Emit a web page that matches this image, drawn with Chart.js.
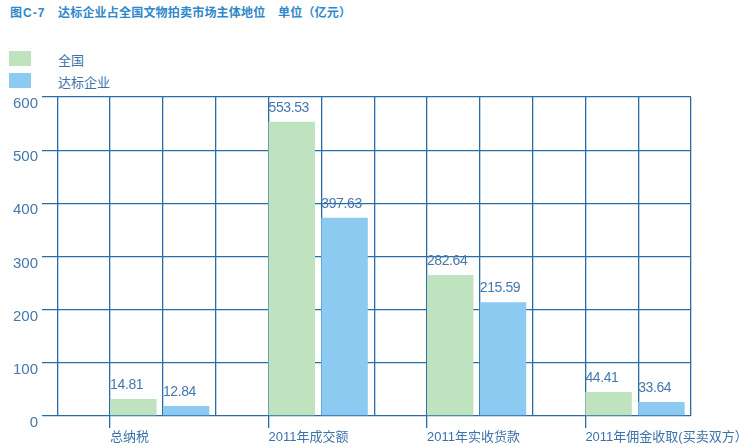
<!DOCTYPE html>
<html>
<head>
<meta charset="utf-8">
<script src="https://cdn.jsdelivr.net/npm/chart.js@4.4.1/dist/chart.umd.min.js"></script>
<style>
  body { margin: 0; background: #fff; }
  #wrap { position: relative; width: 749px; height: 447px; font-family: "Liberation Sans", "Noto Sans CJK SC", sans-serif; }
  #title { position: absolute; left: 10px; top: 3px; font-size: 12px; font-weight: bold; color: #2e88cc; white-space: nowrap; letter-spacing: 0.2px; }
  #title span { display: inline-block; }
  #legend { position: absolute; left: 9px; top: 51px; }
  .item { height: 22px; position: relative; }
  .box { position: absolute; left: 0; top: 0; width: 22px; height: 15px; }
  .txt { position: absolute; left: 49px; top: -1px; font-size: 13px; color: #3c72aa; white-space: nowrap; }
  canvas { position: absolute; left: 0; top: 0; }
</style>
</head>
<body>
<div id="wrap">
  <div id="title"><span style="width:48px;letter-spacing:1px">图C-7</span><span style="width:220px">达标企业占全国文物拍卖市场主体地位</span><span>单位（亿元）</span></div>
  <div id="legend"></div>
  <canvas id="chart" width="749" height="447"></canvas>
</div>
<script>
// categories
const categories = ["总纳税", "2011年成交额", "2011年实收货款", "2011年佣金收取(买卖双方）"];

// series (bar heights as drawn in the picture)
const seriesNames = ["全国", "达标企业"];
const quanguo = [32, 553.5, 265, 45];
const dabiao = [19, 373, 214, 26.5];

// printed value labels
const quanguoLabels = ["14.81", "553.53", "282.64", "44.41"];
const dabiaoLabels = ["12.84", "397.63", "215.59", "33.64"];

// y ticks
const yTicks = [0, 100, 200, 300, 400, 500, 600];

const colors = ["#bfe3bf", "#8dcaf2"];
const gridColor = "#2a6ca8";
const textColor = "#3c72aa";

// each category uses 3 grid columns: green, blue, empty
const columns = [0, 1, 2, 3, 4, 5, 6, 7, 8, 9, 10, 11, 12];
const catColumn = i => 1 + 3 * i;

function catIndex(value) {
    return categories.findIndex(function (_, i) { return catColumn(i) === value; });
}

function toPoints(values, shift) {
    return values.map(function (v, i) {
        return { x: catColumn(i) + shift + 0.44, y: v };
    });
}

// legend
const legend = document.getElementById("legend");
seriesNames.forEach(function (name, i) {
    const item = document.createElement("div");
    item.className = "item";
    item.innerHTML = '<div class="box" style="background:' + colors[i] + '"></div><div class="txt">' + name + '</div>';
    legend.appendChild(item);
});

// value labels above bars
const valueLabels = {
    id: "valueLabels",
    afterDatasetsDraw: function (chart) {
        const ctx = chart.ctx;
        const texts = [quanguoLabels, dabiaoLabels];
        ctx.save();
        ctx.font = '14px "Liberation Sans", sans-serif';
        ctx.letterSpacing = "-0.4px";
        ctx.fillStyle = "#4677ad";
        ctx.textAlign = "left";
        ctx.textBaseline = "middle";
        chart.data.datasets.forEach(function (ds, di) {
            chart.getDatasetMeta(di).data.forEach(function (bar, i) {
                ctx.fillText(texts[di][i], bar.x - bar.width / 2, bar.y - 14);
            });
        });
        ctx.restore();
    }
};

new Chart(document.getElementById("chart"), {
    type: "bar",
    data: {
        datasets: [
            {
                label: seriesNames[0],
                data: toPoints(quanguo, 0),
                backgroundColor: colors[0]
            },
            {
                label: seriesNames[1],
                data: toPoints(dabiao, 1),
                backgroundColor: colors[1]
            }
        ]
    },
    options: {
        responsive: false,
        animation: false,
        grouped: false,
        barPercentage: 0.88,
        categoryPercentage: 1,
        layout: {
            padding: { top: 97, right: 58, left: 0, bottom: 0 }
        },
        plugins: {
            legend: { display: false },
            tooltip: { enabled: false }
        },
        scales: {
            x: {
                type: "linear",
                min: -0.29,
                max: 12,
                offset: false,
                afterBuildTicks: function (axis) {
                    axis.ticks = columns.map(function (c) { return { value: c }; });
                },
                afterFit: function (axis) { axis.height = 31; },
                border: { display: false },
                grid: {
                    offset: false,
                    color: gridColor,
                    lineWidth: 1.3,
                    tickLength: 12,
                    tickColor: function (c) {
                        if (!c.tick) return gridColor;
                        return catIndex(c.tick.value) >= 0 ? gridColor : "rgba(0,0,0,0)";
                    }
                },
                ticks: {
                    autoSkip: false,
                    maxRotation: 0,
                    align: "start",
                    padding: 2,
                    color: textColor,
                    font: { family: '"Liberation Sans", "Noto Sans CJK SC", sans-serif', size: 13 },
                    callback: function (value) {
                        const k = catIndex(value);
                        return k >= 0 ? categories[k] : "";
                    }
                }
            },
            y: {
                min: yTicks[0],
                max: yTicks[yTicks.length - 1],
                afterBuildTicks: function (axis) {
                    axis.ticks = yTicks.map(function (v) { return { value: v }; });
                },
                afterFit: function (axis) { axis.width = 42; },
                border: { display: false },
                grid: {
                    color: gridColor,
                    lineWidth: 1.3,
                    drawTicks: false
                },
                ticks: {
                    padding: 4,
                    labelOffset: 7,
                    color: "#4677ad",
                    font: { family: '"Liberation Sans", sans-serif', size: 15 }
                }
            }
        }
    },
    plugins: [valueLabels]
});
</script>
</body>
</html>
